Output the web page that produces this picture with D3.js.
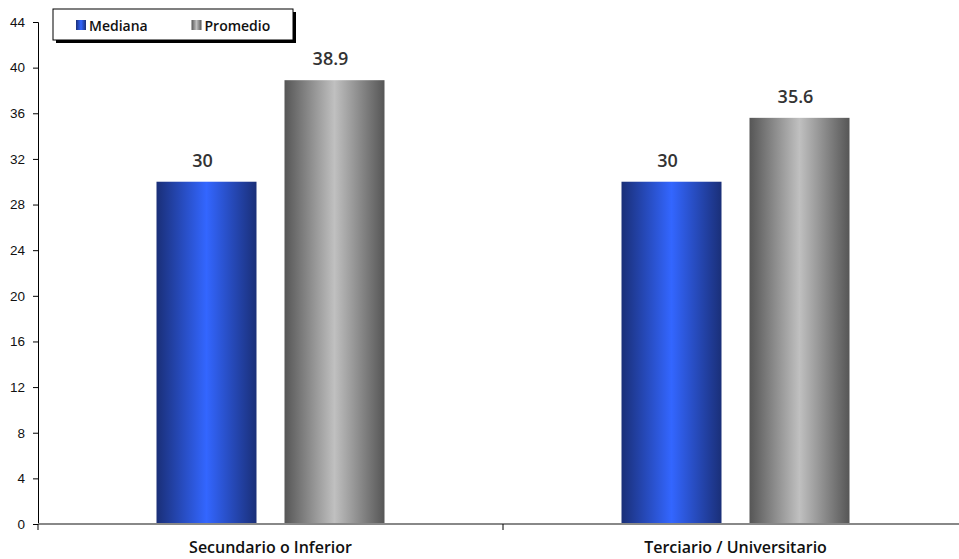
<!DOCTYPE html>
<html>
<head>
<meta charset="utf-8">
<script src="https://cdnjs.cloudflare.com/ajax/libs/d3/7.8.5/d3.min.js"></script>
<style>
  body { margin: 0; background: #fff; }
  svg { display: block; font-family: "Open Sans", "DejaVu Sans", sans-serif; }
  .tick text { font-family: "Liberation Sans", Arial, sans-serif; }
</style>
</head>
<body>
<div id="viz"></div>
<script>
var categories = ["Secundario o Inferior", "Terciario / Universitario"];
var seriesNames = ["Mediana", "Promedio"];
var mediana = [30, 30];
var promedio = [38.9, 35.6];
var yTicks = [0, 4, 8, 12, 16, 20, 24, 28, 32, 36, 40, 44];

var W = 959, H = 559;
var m = {top: 22, right: -9, bottom: 35, left: 38};
var innerW = W - m.left - m.right, innerH = H - m.top - m.bottom;

var svg = d3.select("#viz").append("svg")
    .attr("width", W).attr("height", H);

var defs = svg.append("defs");
function grad(id, edge, mid) {
    var g = defs.append("linearGradient").attr("id", id)
        .attr("x1", "0%").attr("x2", "100%").attr("y1", "0%").attr("y2", "0%");
    g.append("stop").attr("offset", "0%").attr("stop-color", edge);
    g.append("stop").attr("offset", "50%").attr("stop-color", mid);
    g.append("stop").attr("offset", "100%").attr("stop-color", edge);
}
grad("gBlue", "#1a2f78", "#3366ff");
grad("gGray", "#565656", "#c0c0c0");
var fills = ["url(#gBlue)", "url(#gGray)"];

var g = svg.append("g").attr("transform", "translate(" + m.left + "," + m.top + ")");

var x0 = d3.scaleBand().domain(categories).range([0, innerW]);
var x1 = d3.scaleBand().domain(seriesNames).range([0, 228]).paddingInner(0.21875);
var y = d3.scaleLinear().domain([0, 44]).range([innerH, 0]);

// y axis
var yAxis = g.append("g")
    .call(d3.axisLeft(y).tickValues(yTicks).tickSize(5).tickPadding(8));
yAxis.select(".domain").attr("stroke", "#000");
yAxis.selectAll(".tick line").attr("stroke", "#000");
yAxis.selectAll(".tick text").attr("font-size", 13.5).attr("fill", "#111");

var rows = categories.map(function(c, i) {
    return {cat: c, vals: [mediana[i], promedio[i]]};
});

var groups = g.selectAll(".grp").data(rows).enter().append("g")
    .attr("transform", function(d) {
        return "translate(" + (x0(d.cat) + (x0.bandwidth() - 228) / 2) + ",0)";
    });

groups.selectAll("rect").data(function(d) { return d.vals; }).enter().append("rect")
    .attr("x", function(d, i) { return x1(seriesNames[i]); })
    .attr("width", x1.bandwidth())
    .attr("y", function(d) { return y(d); })
    .attr("height", function(d) { return innerH - y(d); })
    .attr("fill", function(d, i) { return fills[i]; });

groups.selectAll(".lbl").data(function(d) { return d.vals; }).enter().append("text")
    .attr("x", function(d, i) { return x1(seriesNames[i]) + x1.bandwidth() / 2 - 4; })
    .attr("y", function(d) { return y(d) - 15; })
    .attr("text-anchor", "middle")
    .attr("font-size", 18).attr("font-weight", 600).attr("fill", "#333")
    .text(function(d) { return d; });

// x axis
var xAxis = g.append("g").attr("transform", "translate(0," + innerH + ")");
xAxis.append("line").attr("x1", 0).attr("x2", innerW)
    .attr("stroke", "#888").attr("stroke-width", 2);
xAxis.selectAll(".sep").data(categories.slice(1)).enter().append("line")
    .attr("x1", function(d) { return x0(d); }).attr("x2", function(d) { return x0(d); })
    .attr("y1", 0).attr("y2", 6).attr("stroke", "#000");
xAxis.append("line").attr("x1", 0).attr("x2", 0).attr("y1", 0).attr("y2", 6).attr("stroke", "#000");
xAxis.selectAll(".cl").data(categories).enter().append("text")
    .attr("x", function(d) { return x0(d) + x0.bandwidth() / 2; })
    .attr("y", 29)
    .attr("text-anchor", "middle")
    .attr("font-size", 16).attr("font-weight", 600).attr("fill", "#111")
    .text(function(d) { return d; });

// legend
var leg = svg.append("g").attr("transform", "translate(53,9)");
leg.append("rect").attr("x", 3).attr("y", 3).attr("width", 240).attr("height", 31).attr("fill", "#000");
leg.append("rect").attr("x", 0).attr("y", 0).attr("width", 240).attr("height", 31)
    .attr("fill", "#fff").attr("stroke", "#000").attr("stroke-width", 1);
var items = leg.selectAll(".li").data(seriesNames).enter().append("g")
    .attr("transform", function(d, i) { return "translate(" + (23 + i * 115.5) + ",11)"; });
items.append("rect").attr("width", 10).attr("height", 10)
    .attr("fill", function(d, i) { return fills[i]; });
items.append("text").attr("x", 13).attr("y", 10.5)
    .attr("font-size", 14).attr("font-weight", 600).attr("fill", "#111")
    .text(function(d) { return d; });
</script>
</body>
</html>
